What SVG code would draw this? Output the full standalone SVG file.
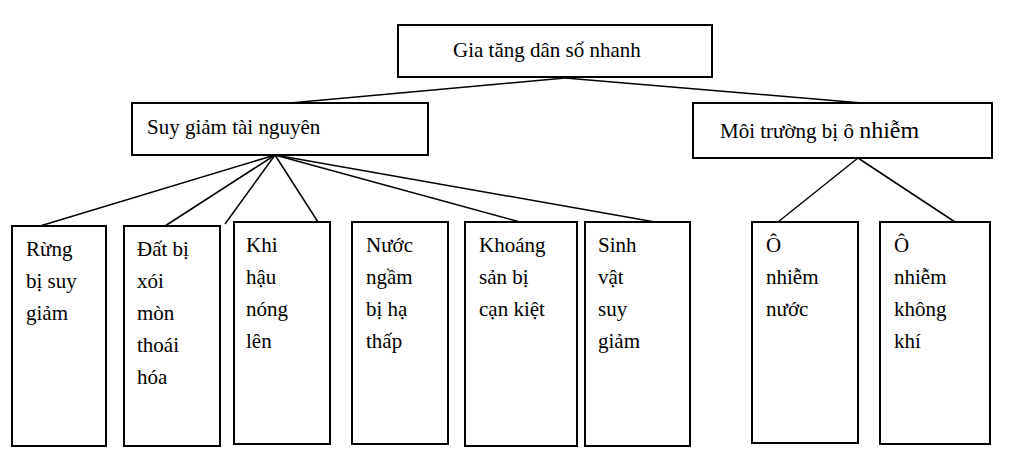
<svg xmlns="http://www.w3.org/2000/svg" width="1024" height="462" viewBox="0 0 1024 462">
<style>
rect{fill:#fff;stroke:#000;stroke-width:2}
line{stroke:#000;stroke-width:1.5}
text{font-family:"Liberation Serif",serif;font-size:21px;fill:#000}
</style>
<rect x="0" y="0" width="1024" height="462" style="stroke:none"/>
<g id="connectors">
<line x1="565" y1="78" x2="290" y2="103"/>
<line x1="565" y1="78" x2="862" y2="103"/>
<line x1="275" y1="155" x2="40" y2="226"/>
<line x1="275" y1="155" x2="165" y2="226"/>
<line x1="275" y1="155" x2="225" y2="224"/>
<line x1="275" y1="155" x2="318" y2="222"/>
<line x1="275" y1="155" x2="520" y2="222"/>
<line x1="275" y1="155" x2="655" y2="222"/>
<line x1="858" y1="158" x2="778" y2="222"/>
<line x1="858" y1="158" x2="955" y2="222"/>
</g>
<g id="n0"><rect x="398" y="25" width="314" height="52"/><text x="453" y="57">Gia tăng dân số nhanh</text></g>
<g id="n1"><rect x="132" y="103" width="296" height="52"/><text x="147" y="134">Suy giảm tài nguyên</text></g>
<g id="n2"><rect x="693" y="103" width="299" height="55"/><text x="720" y="138">Môi trường bị ô <tspan font-size="24">nhiễm</tspan></text></g>
<g id="b1"><rect x="12" y="226" width="94" height="220"/><text x="26" y="256">Rừng</text><text x="26" y="288">bị suy</text><text x="26" y="320">giảm</text></g>
<g id="b2"><rect x="124" y="226" width="96" height="220"/><text x="137" y="256">Đất bị</text><text x="137" y="288">xói</text><text x="137" y="320">mòn</text><text x="137" y="352">thoái</text><text x="137" y="384">hóa</text></g>
<g id="b3"><rect x="234" y="222" width="96" height="222"/><text x="246" y="252">Khi</text><text x="246" y="284">hậu</text><text x="246" y="316">nóng</text><text x="246" y="348">lên</text></g>
<g id="b4"><rect x="352" y="222" width="96" height="222"/><text x="366" y="252">Nước</text><text x="366" y="284">ngầm</text><text x="366" y="316">bị hạ</text><text x="366" y="348">thấp</text></g>
<g id="b5"><rect x="465" y="222" width="112" height="224"/><text x="479" y="252">Khoáng</text><text x="479" y="284">sản bị</text><text x="479" y="316">cạn kiệt</text></g>
<g id="b6"><rect x="585" y="222" width="105" height="224"/><text x="598" y="252">Sinh</text><text x="598" y="284">vật</text><text x="598" y="316">suy</text><text x="598" y="348">giảm</text></g>
<g id="b7"><rect x="752" y="222" width="106" height="221"/><text x="766" y="252">Ô</text><text x="766" y="284">nhiễm</text><text x="766" y="316">nước</text></g>
<g id="b8"><rect x="880" y="222" width="110" height="222"/><text x="894" y="252">Ô</text><text x="894" y="284">nhiễm</text><text x="894" y="316">không</text><text x="894" y="348">khí</text></g>
</svg>
